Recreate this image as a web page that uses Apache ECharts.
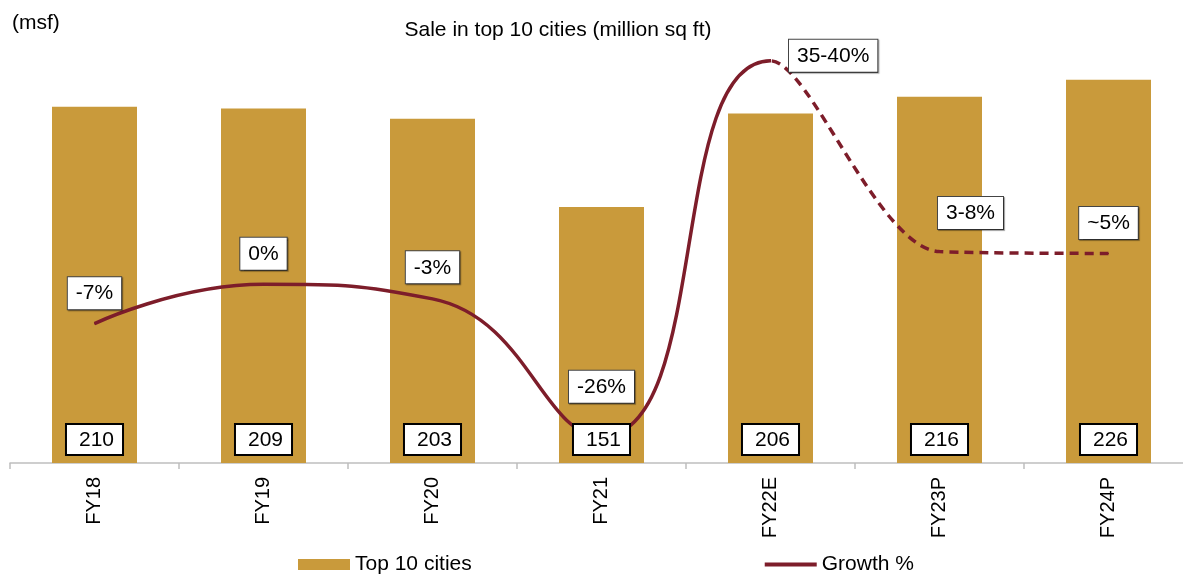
<!DOCTYPE html>
<html>
<head>
<meta charset="utf-8">
<script src="https://cdn.jsdelivr.net/npm/echarts@6/dist/echarts.min.js"></script>
<style>
  html, body { margin: 0; padding: 0; background: #fff; }
  #chart { width: 1183px; height: 574px; }
</style>
</head>
<body>
<div id="chart"></div>
<script>
// ─── Data ─────────────────────────────────────────────────────────────────
const years = ['FY18', 'FY19', 'FY20', 'FY21', 'FY22E', 'FY23P', 'FY24P'];
const sales = [210, 209, 203, 151, 206, 216, 226];
const growth = [-7, -0.5, -2.9, -25.6, 36.4, 4.9, 4.6];
const growthLabels = ['-7%', '0%', '-3%', '-26%', '35-40%', '3-8%', '~5%'];
const lastActual = 4; // FY22E: solid line up to here, dashed after

// label placement per point (style only)
const growthLabelPos = [
  { position: 'top', distance: 14 },
  { position: 'top', distance: 14 },
  { position: 'top', distance: 15 },
  { position: 'top', distance: 33 },
  { position: 'right', distance: 18, offset: [0, -5] },
  { position: 'top', distance: 22, offset: [31, 0] },
  { position: 'top', distance: 14 }
];

const FONT = 'Arial, "Liberation Sans", sans-serif';
const GOLD = '#C99A3B';
const MAROON = '#7D1D2A';
const CLEAR = 'rgba(0,0,0,0)';

// both line series carry every point; a hard-stop gradient (relative to
// the line's own x extent) hides the part that belongs to the other one.
// The peak has a flat tangent in both, so the join stays smooth.
const split = lastActual / (growth.length - 1);
function splitColor(before, after) {
  return new echarts.graphic.LinearGradient(0, 0, 1, 0, [
    { offset: 0, color: before },
    { offset: split, color: before },
    { offset: split, color: after },
    { offset: 1, color: after }
  ]);
}

const lineLabelBase = {
  show: true,
  color: '#000',
  fontFamily: FONT,
  fontSize: 21,
  backgroundColor: '#fff',
  borderColor: '#444',
  borderWidth: 1,
  padding: [6, 8, 5, 8],
  shadowColor: 'rgba(0,0,0,0.35)',
  shadowOffsetX: 1,
  shadowOffsetY: 1,
  shadowBlur: 1
};

function lineData(showLabel) {
  return growth.map((v, i) => {
    if (!showLabel(i)) return { value: v, label: { show: false } };
    return {
      value: v,
      label: Object.assign({}, lineLabelBase, growthLabelPos[i], {
        formatter: () => growthLabels[i]
      })
    };
  });
}

const chart = echarts.init(document.getElementById('chart'));

chart.setOption({
  animation: false,
  textStyle: { fontFamily: FONT },
  title: [
    {
      text: 'Sale in top 10 cities (million sq ft)',
      left: 553, top: 15,
      textAlign: 'center',
      textStyle: { fontFamily: FONT, fontSize: 21, fontWeight: 'normal', color: '#000' }
    },
    {
      text: '(msf)',
      left: 7, top: 8,
      textStyle: { fontFamily: FONT, fontSize: 21, fontWeight: 'normal', color: '#000' }
    }
  ],
  legend: {
    left: 293, top: 549,
    itemGap: 293,
    itemWidth: 52, itemHeight: 11,
    textStyle: { fontFamily: FONT, fontSize: 21, color: '#000' },
    data: [
      { name: 'Top 10 cities', icon: 'rect' },
      { name: 'Growth %', icon: 'path://M0,0H52V4H0Z', itemStyle: { color: MAROON } }
    ]
  },
  // the last category runs past the right edge in the reference
  grid: { left: 10, right: -10, top: 39, bottom: 111, outerBoundsMode: 'none' },
  xAxis: {
    type: 'category',
    data: years,
    axisLine: { lineStyle: { color: '#bfbfbf', width: 1.5 } },
    axisTick: { show: true, length: 6, lineStyle: { color: '#bfbfbf', width: 1.5 } },
    axisLabel: {
      rotate: 90, margin: 14,
      fontFamily: FONT, fontSize: 20, color: '#000'
    }
  },
  yAxis: [
    { type: 'value', min: 0, max: 250, show: false, splitLine: { show: false } },
    { type: 'value', min: -30, max: 40, show: false, splitLine: { show: false } }
  ],
  series: [
    {
      name: 'Top 10 cities',
      type: 'bar',
      data: sales,
      barWidth: 85,
      itemStyle: { color: GOLD },
      emphasis: { disabled: true },
      z: 1
    },
    {
      name: 'Growth %',
      type: 'line',
      yAxisIndex: 1,
      data: lineData(i => i <= lastActual),
      smooth: 0.5,
      symbol: 'circle',
      symbolSize: 1,
      itemStyle: { color: MAROON },
      lineStyle: { width: 3.5, color: splitColor(MAROON, CLEAR) },
      emphasis: { disabled: true },
      z: 3
    },
    {
      name: 'Growth % (projected)',
      type: 'line',
      yAxisIndex: 1,
      data: lineData(i => i > lastActual),
      smooth: 0.3,
      symbol: 'circle',
      symbolSize: 1,
      itemStyle: { color: MAROON },
      lineStyle: { width: 3.5, type: [9, 6], color: splitColor(CLEAR, MAROON) },
      emphasis: { disabled: true },
      z: 3
    },
    // transparent copy of the bars on top, so the value boxes cover the line
    {
      name: 'Top 10 cities labels',
      type: 'bar',
      data: sales,
      barWidth: 85,
      barGap: '-100%',
      itemStyle: { color: CLEAR },
      emphasis: { disabled: true },
      silent: true,
      z: 5,
      label: {
        show: true,
        position: 'insideBottom',
        distance: 9,
        color: '#000',
        fontFamily: FONT,
        fontSize: 21,
        backgroundColor: '#fff',
        borderColor: '#000',
        borderWidth: 2,
        padding: [5, 8, 3, 12]
      }
    }
  ]
});
</script>
</body>
</html>
